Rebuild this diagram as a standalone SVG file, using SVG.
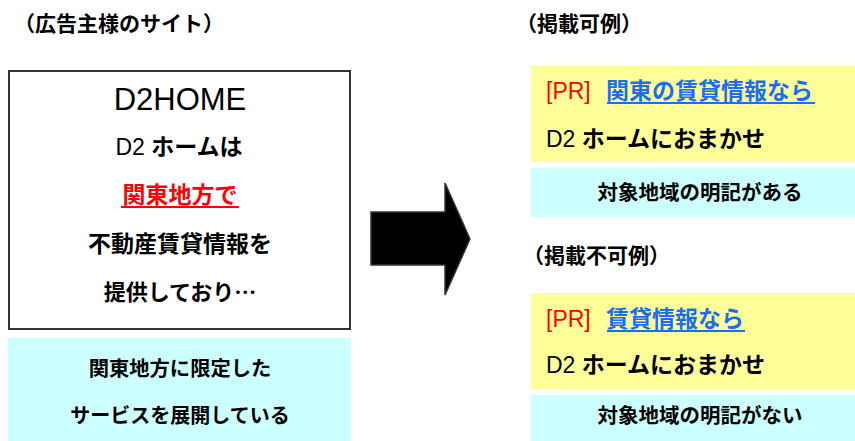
<svg xmlns="http://www.w3.org/2000/svg" width="855" height="441" viewBox="0 0 855 441">
<style>
text{font-family:"Liberation Sans","Noto Sans CJK JP",sans-serif;fill:#000}
.b{font-weight:bold}
.h{font-size:21px;font-weight:bold}
.red{fill:#ff0000}
.blue{fill:#1a6ff0}
.jp{font-family:"Noto Sans CJK JP",sans-serif}
</style>
<rect width="855" height="441" fill="#fff"/>
<g id="title-left"><text class="h" x="14" y="31">（広告主様のサイト）</text></g>
<g id="site-box">
<rect x="9" y="71" width="341" height="258" fill="#fff" stroke="#333" stroke-width="2"/>
<text x="180" y="110" font-size="31" text-anchor="middle">D2HOME</text>
<text x="179" y="155" font-size="23" text-anchor="middle">D2 <tspan class="b">ホームは</tspan></text>
<text class="b red" x="180" y="203" font-size="23" text-anchor="middle">関東地方で</text>
<rect x="121" y="206" width="118" height="2" fill="#ff0000"/>
<text class="b" x="180" y="252" font-size="23" text-anchor="middle">不動産賃貸情報を</text>
<text class="b jp" x="180" y="300" font-size="22" text-anchor="middle">提供しており…</text>
</g>
<g id="site-note">
<rect x="8" y="338" width="343" height="103" fill="#ccffff"/>
<text class="b" x="180" y="376" font-size="20.3" text-anchor="middle">関東地方に限定した</text>
<text class="b" x="180" y="423" font-size="20" text-anchor="middle">サービスを展開している</text>
</g>
<g id="connectors">
<polygon points="371,212 445,212 445,183 470,239 445,295 445,265 371,265" fill="#000" stroke="#333" stroke-width="1.5"/>
</g>
<g id="title-ok"><text class="h" x="516" y="31">（掲載可例）</text></g>
<g id="ad-ok">
<rect x="531" y="66" width="324" height="96" fill="#ffff99"/>
<text x="546" y="99" font-size="23" class="red">[PR]</text>
<text x="606" y="99" font-size="23" class="b blue">関東の賃貸情報なら</text>
<rect x="607" y="102" width="208" height="2" fill="#1a6ff0"/>
<text x="546" y="147" font-size="23">D2 <tspan class="b">ホームにおまかせ</tspan></text>
</g>
<g id="note-ok">
<rect x="531" y="168" width="324" height="49" fill="#ccffff"/>
<text class="b" x="700" y="200" font-size="20.5" text-anchor="middle">対象地域の明記がある</text>
</g>
<g id="title-ng"><text class="h" x="523" y="263">（掲載不可例）</text></g>
<g id="ad-ng">
<rect x="531" y="293" width="324" height="96" fill="#ffff99"/>
<text x="546" y="327" font-size="23" class="red">[PR]</text>
<text x="606" y="327" font-size="23" class="b blue">賃貸情報なら</text>
<rect x="607" y="330" width="138" height="2" fill="#1a6ff0"/>
<text x="546" y="373" font-size="23">D2 <tspan class="b">ホームにおまかせ</tspan></text>
</g>
<g id="note-ng">
<rect x="531" y="395" width="324" height="46" fill="#ccffff"/>
<text class="b" x="700" y="423" font-size="20.5" text-anchor="middle">対象地域の明記がない</text>
</g>
</svg>
